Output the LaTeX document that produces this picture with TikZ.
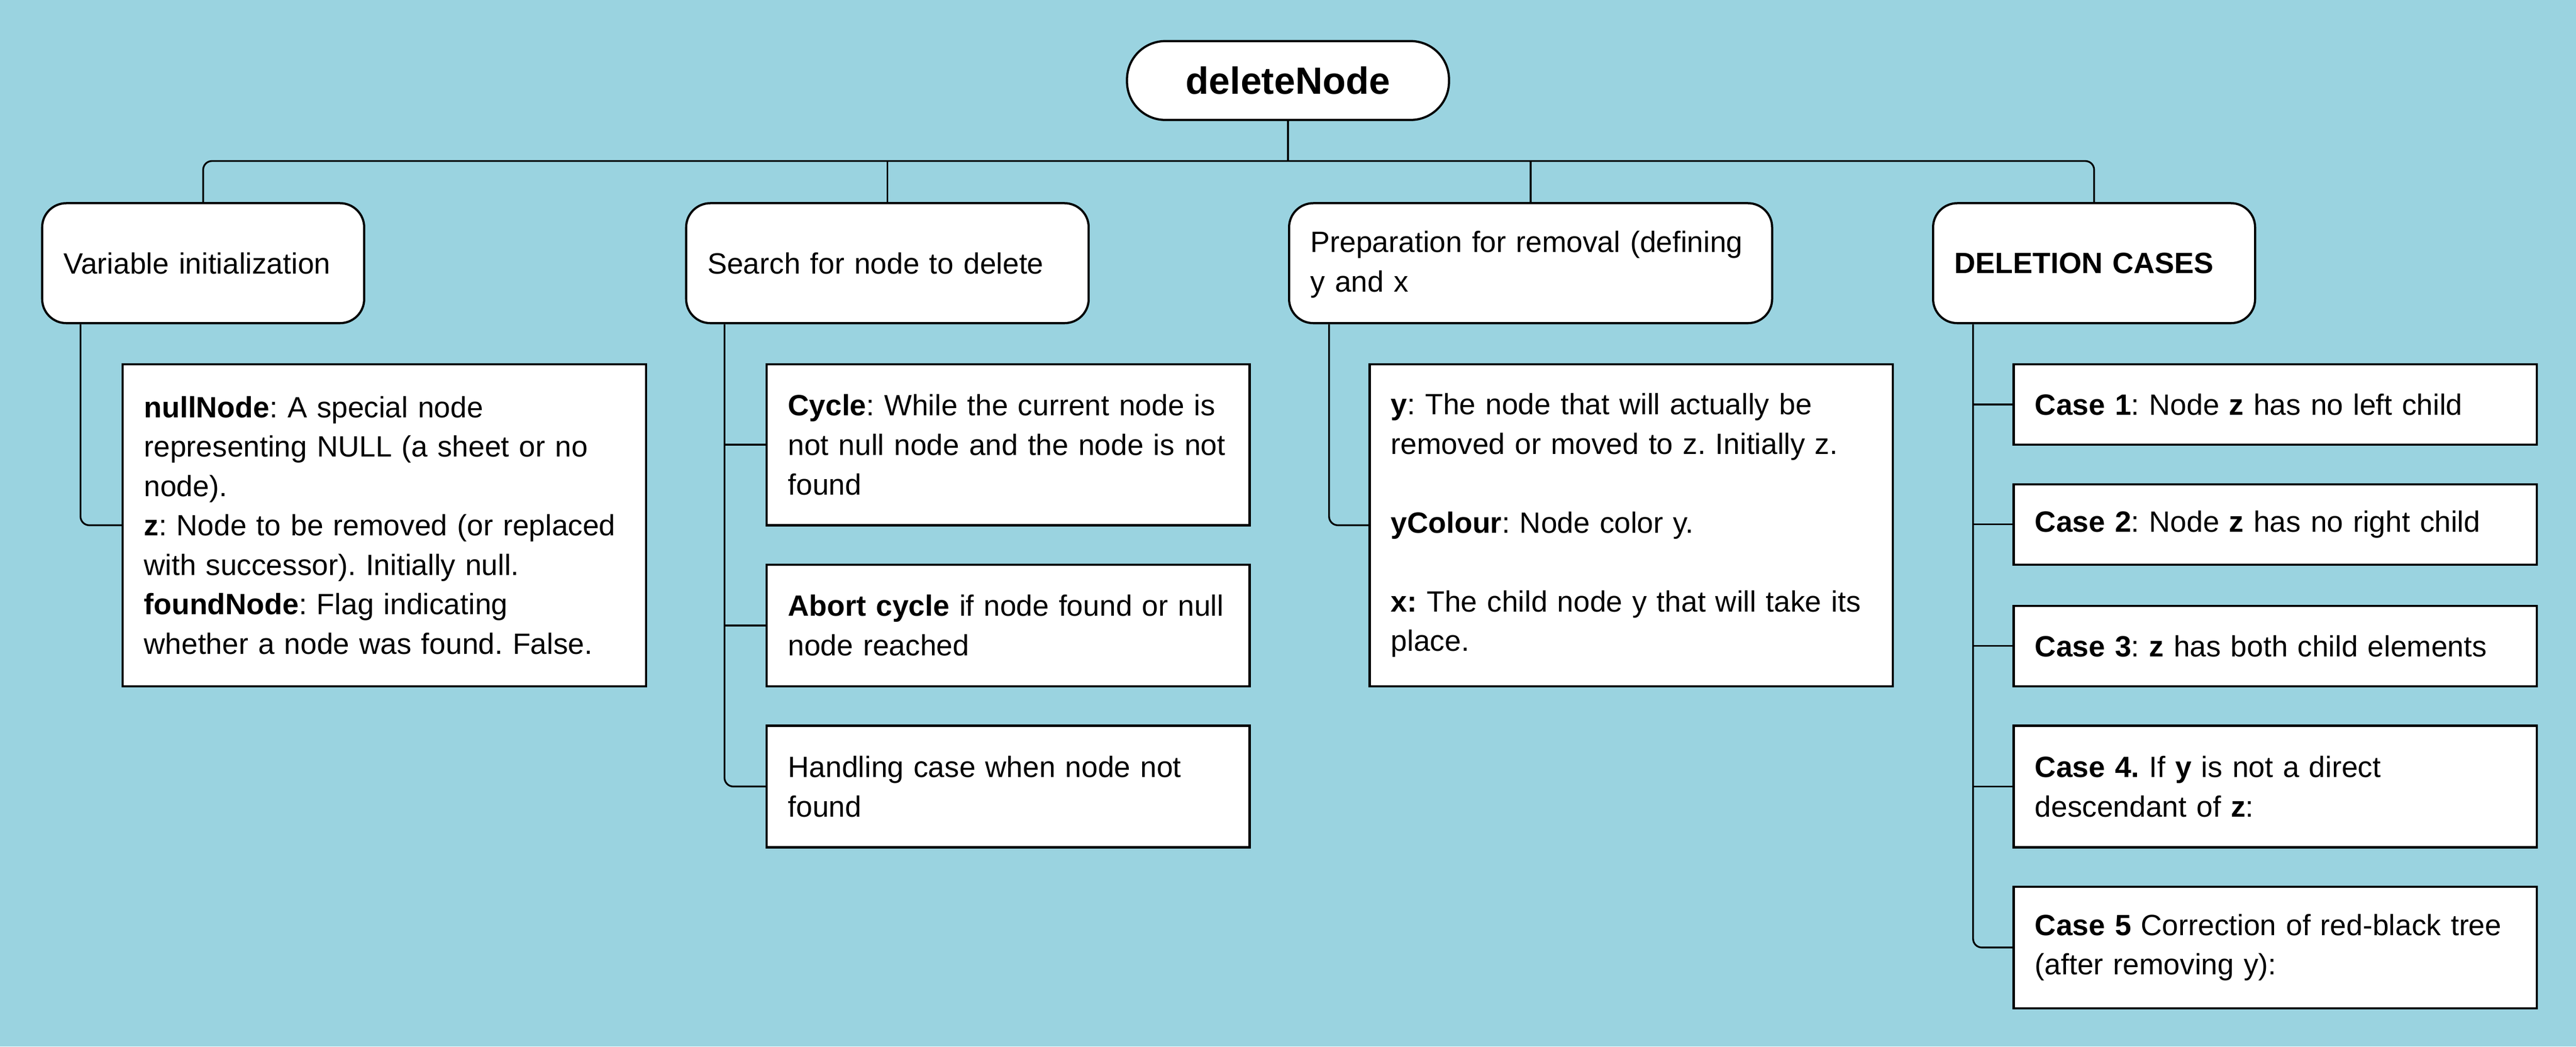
\documentclass[tikz,border=0pt]{standalone}
\usepackage{fontspec}
\setmainfont{Liberation Sans}
\usepackage{tikz}
\usetikzlibrary{calc}
\frenchspacing
\hyphenpenalty=10000
\exhyphenpenalty=10000

\begin{document}
\begin{tikzpicture}[x=0.75pt,y=0.75pt,yscale=-1,xscale=1,
  link/.style={line width=0.8pt},
  topbox/.style={draw,fill=white,line width=1pt,rounded corners=17.5pt,minimum width=147pt,minimum height=36pt,inner sep=0pt,font=\fontsize{17.3}{20}\selectfont\bfseries},
  groupbox/.style={draw,fill=white,line width=1pt,rounded corners=11pt,anchor=north west,align=left,inner xsep=9.75pt,inner ysep=0pt,minimum height=54.75pt,text width=#1,font=\fontsize{13.4}{18}\selectfont,execute at begin node={\rightskip=0pt plus 1fil minus 20pt}},
  itembox/.style={draw,fill=white,line width=1pt,anchor=north west,align=left,inner xsep=9.75pt,inner ysep=0pt,text width=#1,font=\fontsize{13.4}{18}\selectfont,execute at begin node={\rightskip=0pt plus 1fil minus 20pt}}]
%set diagram size 1568 x 637
\fill[fill={rgb, 255:red, 154; green, 211; blue, 224}] (0,0) rectangle (1568,637);
\useasboundingbox (0,0) rectangle (1568,637);

%Shape: Rounded Rect
\node[topbox] (del) at (784,49) {deleteNode};

%Shape: Rounded Rect
\node[groupbox=127.5pt] (varinit) at (25,123) {Variable initialization};
%Shape: Rounded Rect
\node[groupbox=164.25pt] (search) at (417,123) {Search for node to delete};
%Shape: Rounded Rect
\node[groupbox=201pt] (prep) at (784,123) {\rule{0pt}{11pt}Preparation for removal (defining\\y and x};
%Shape: Rounded Rect
\node[groupbox=127.5pt] (cases) at (1176,123) {\textbf{DELETION CASES}};

% Text Node
\node[itembox=219.4pt,minimum height=147pt] (nullbox) at (74,221) {\textbf{nullNode}: A special node\\representing NULL (a sheet or no\\node).\\\textbf{z}: Node to be removed (or replaced\\with successor). Initially null.\\\textbf{foundNode}: Flag indicating\\whether a node was found. False.};

% Text Node
\node[itembox=201pt,minimum height=73.5pt] (cycle) at (466,221) {\textbf{Cycle}: While the current node is\\not null node and the node is not\\found};
% Text Node
\node[itembox=201pt,minimum height=55.5pt] (abort) at (466,343) {\textbf{Abort cycle} if node found or null\\node reached};
% Text Node
\node[itembox=201pt,minimum height=55.5pt] (handle) at (466,441) {Handling case when node not\\found};

% Text Node
\node[itembox=219.4pt,minimum height=147pt] (ybox) at (833,221) {\textbf{y}: The node that will actually be\\removed or moved to z. Initially z.\\[18pt]\textbf{yColour}: Node color y.\\[18pt]\textbf{x:} The child node y that will take its\\place.};

% Text Node
\node[itembox=219.4pt,minimum height=36.75pt] (case1) at (1225,221) {\textbf{Case 1}: Node \textbf{z} has no left child};
% Text Node
\node[itembox=219.4pt,minimum height=36.75pt] (case2) at (1225,294) {\textbf{Case 2}: Node \textbf{z} has no right child};
% Text Node
\node[itembox=219.4pt,minimum height=36.75pt] (case3) at (1225,368) {\textbf{Case 3}: \textbf{z} has both child elements};
% Text Node
\node[itembox=219.4pt,minimum height=55.5pt] (case4) at (1225,441) {\textbf{Case 4.} If \textbf{y} is not a direct\\descendant of \textbf{z}:};
% Text Node
\node[itembox=219.4pt,minimum height=55.5pt] (case5) at (1225,539) {\textbf{Case 5} Correction of red-black tree\\(after removing y):};

% Connectors: top bus
\coordinate (bus) at (784,98);
\draw[link] (del.south) -- (bus);
\draw[link,rounded corners=4pt] (varinit.north) |- (bus) -| (cases.north);
\draw[link] (search.north) -- (search.north |- bus);
\draw[link] (prep.north) -- (prep.north |- bus);

% Connectors: trunks
\coordinate (vt) at ($(varinit.south west)+(24,0)$);
\draw[link,rounded corners=4pt] (vt) |- (nullbox.west);
\coordinate (st) at ($(search.south west)+(24,0)$);
\draw[link,rounded corners=4pt] (st) |- (handle.west);
\foreach \n in {cycle,abort}
  \draw[link] (\n.west) -- (\n.west -| st);
\coordinate (pt) at ($(prep.south west)+(25,0)$);
\draw[link,rounded corners=4pt] (pt) |- (ybox.west);
\coordinate (ct) at ($(cases.south west)+(25,0)$);
\draw[link,rounded corners=4pt] (ct) |- (case5.west);
\foreach \n in {case1,case2,case3,case4}
  \draw[link] (\n.west) -- (\n.west -| ct);

\end{tikzpicture}
\end{document}
